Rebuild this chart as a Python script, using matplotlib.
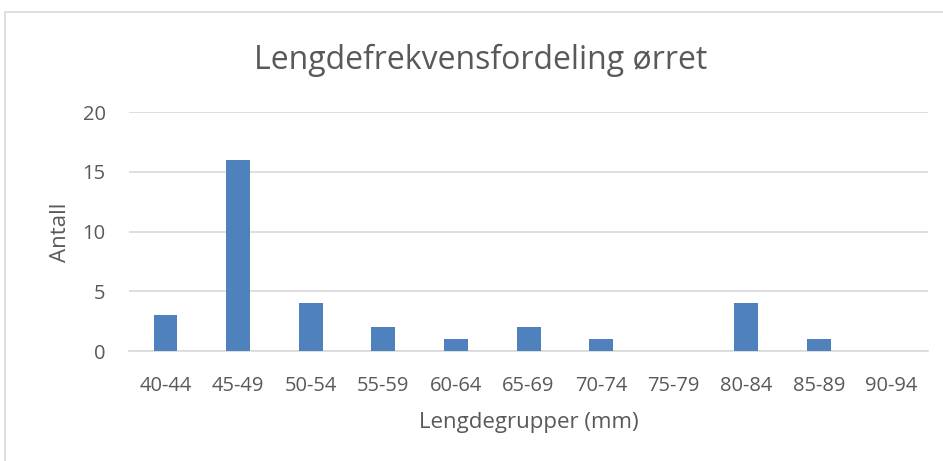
import matplotlib.pyplot as plt
from matplotlib.patches import Rectangle

# Data
groups = ['40-44', '45-49', '50-54', '55-59', '60-64', '65-69',
          '70-74', '75-79', '80-84', '85-89', '90-94']
counts = [3, 16, 4, 2, 1, 2, 1, 0, 4, 1, 0]

txt = '#595959'
plt.rcParams['font.family'] = ['Open Sans', 'DejaVu Sans']

fig = plt.figure(figsize=(9.43, 4.61), dpi=100)
ax = fig.add_axes([0.137, 0.2386, 0.847, 0.5184])

# chart border (cropped at right and bottom)
fig.patches.append(Rectangle((5 / 943, -0.01), 1.0, 1 - 12 / 461 + 0.01,
                             transform=fig.transFigure, fill=False,
                             edgecolor='#D9D9D9', linewidth=1.2))

x = range(len(groups))
ax.bar(x, counts, width=0.33, color='#4F81BD', zorder=3)

ax.set_xlim(-0.5, len(groups) - 0.5)
ax.set_ylim(0, 20)
ax.set_yticks([0, 5, 10, 15, 20])
ax.set_xticks(list(x))
ax.set_xticklabels(groups)
ax.yaxis.grid(True, color='#D9D9D9', linewidth=1.2, zorder=0)
for s in ['top', 'right', 'left']:
    ax.spines[s].set_visible(False)
ax.spines['bottom'].set_color('#D9D9D9')
ax.spines['bottom'].set_linewidth(1.2)
ax.tick_params(length=0, labelsize=14.5, colors=txt)
ax.tick_params(axis='x', pad=18)
ax.tick_params(axis='y', pad=17)

ax.set_xlabel('Lengdegrupper (mm)', fontsize=16, color=txt, va='center')
ax.set_ylabel('Antall', fontsize=16, color=txt, va='center')
ax.xaxis.set_label_coords(0.5, -0.301)
ax.yaxis.set_label_coords(-0.0864, 0.498)
fig.text(0.51, 1 - 60 / 461, 'Lengdefrekvensfordeling ørret', ha='center',
         va='center', fontsize=23, color=txt)

fig.savefig('out.png', dpi=100)
